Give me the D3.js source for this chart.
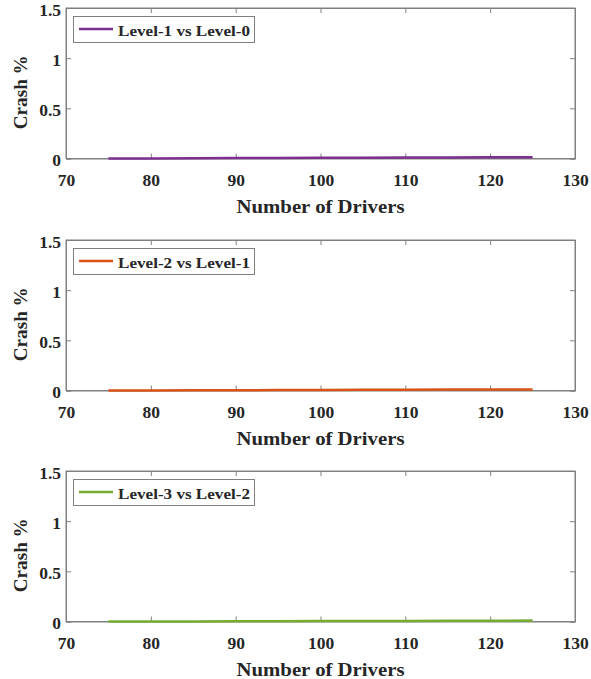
<!DOCTYPE html>
<html>
<head>
<meta charset="utf-8">
<script src="https://cdn.jsdelivr.net/npm/d3@7"></script>
<style>
  body { margin: 0; background: #fff; }
  text { font-family: "Liberation Serif", "Times New Roman", serif; font-weight: bold; fill: #262626; }
</style>
</head>
<body>
<div id="chart"></div>
<script>
// x values (number of drivers) shared by all panels
var drivers = [75, 80, 85, 90, 95, 100, 105, 110, 115, 120, 125];

// crash % for each comparison
var crashL1vsL0 = [0.000, 0.001, 0.003, 0.004, 0.005, 0.007, 0.008, 0.009, 0.011, 0.012, 0.013];
var crashL2vsL1 = [0.000, 0.001, 0.002, 0.003, 0.004, 0.006, 0.007, 0.008, 0.009, 0.010, 0.011];
var crashL3vsL2 = [0.000, 0.001, 0.001, 0.002, 0.003, 0.004, 0.005, 0.006, 0.007, 0.008, 0.009];

var seriesNames = ["Level-1 vs Level-0", "Level-2 vs Level-1", "Level-3 vs Level-2"];
var seriesColors = ["#7E2F8E", "#D95319", "#77AC30"];
var seriesValues = [crashL1vsL0, crashL2vsL1, crashL3vsL2];

var xTicks = [70, 80, 90, 100, 110, 120, 130];
var yTicks = [0, 0.5, 1, 1.5];

var width = 591, height = 679;
var panelTops = [8, 240, 471];
var plotLeft = 66, plotRight = 575, plotHeight = 150.5;
var axisColor = "#808080";

var svg = d3.select("#chart")
  .append("svg")
  .attr("width", width)
  .attr("height", height);

var x = d3.scaleLinear()
  .domain([70, 130])
  .range([plotLeft, plotRight]);

seriesValues.forEach(function (vals, i) {
  var top = panelTops[i];
  var y = d3.scaleLinear()
    .domain([0, 1.5])
    .range([top + plotHeight, top]);

  var g = svg.append("g");

  // bottom axis, ticks pointing inward
  g.append("g")
    .attr("transform", "translate(0," + (top + plotHeight) + ")")
    .call(d3.axisBottom(x).tickValues(xTicks).tickSize(-5).tickPadding(15)
      .tickFormat(d3.format("d")));
  // top ticks
  g.append("g")
    .attr("transform", "translate(0," + top + ")")
    .call(d3.axisTop(x).tickValues(xTicks).tickSize(-5).tickFormat(""));
  // left axis
  var yAxis = g.append("g")
    .attr("transform", "translate(" + plotLeft + ",0)")
    .call(d3.axisLeft(y).tickValues(yTicks).tickSize(-5).tickPadding(5)
      .tickFormat(function (d) { return d; }));
  yAxis.selectAll(".tick text").attr("dy", "0.4em");
  // right ticks
  g.append("g")
    .attr("transform", "translate(" + plotRight + ",0)")
    .call(d3.axisRight(y).tickValues(yTicks).tickSize(-5).tickFormat(""));

  g.selectAll(".domain").attr("stroke", axisColor);
  g.selectAll(".tick line").attr("stroke", axisColor);
  g.selectAll(".tick text")
    .style("font-size", "17.5px")
    .attr("fill", "#262626");

  // box outline
  g.append("rect")
    .attr("x", plotLeft)
    .attr("y", top)
    .attr("width", plotRight - plotLeft)
    .attr("height", plotHeight)
    .attr("fill", "none")
    .attr("stroke", axisColor);

  // data line
  var line = d3.line()
    .x(function (d, j) { return x(drivers[j]); })
    .y(function (d) { return y(d); });
  g.append("path")
    .datum(vals)
    .attr("d", line)
    .attr("fill", "none")
    .attr("stroke", seriesColors[i])
    .attr("stroke-width", 2.5);

  // legend
  var lg = g.append("g").attr("transform", "translate(73.5," + (top + 8.5) + ")");
  lg.append("rect")
    .attr("width", 181)
    .attr("height", 26)
    .attr("fill", "#fff")
    .attr("stroke", axisColor);
  lg.append("line")
    .attr("x1", 5.5).attr("x2", 39.5)
    .attr("y1", 12.5).attr("y2", 12.5)
    .attr("stroke", seriesColors[i])
    .attr("stroke-width", 2.5);
  lg.append("text")
    .attr("x", 44.5)
    .attr("y", 19)
    .attr("textLength", 132)
    .attr("lengthAdjust", "spacingAndGlyphs")
    .style("font-size", "15px")
    .text(seriesNames[i]);

  // axis titles
  g.append("text")
    .attr("x", (plotLeft + plotRight) / 2)
    .attr("y", top + plotHeight + 54)
    .attr("text-anchor", "middle")
    .attr("textLength", 168)
    .attr("lengthAdjust", "spacingAndGlyphs")
    .style("font-size", "18px")
    .text("Number of Drivers");
  g.append("text")
    .attr("transform", "translate(27," + (top + plotHeight / 2 + 9) + ") rotate(-90)")
    .attr("text-anchor", "middle")
    .attr("textLength", 74)
    .attr("lengthAdjust", "spacingAndGlyphs")
    .style("font-size", "18px")
    .text("Crash %");
});
</script>
</body>
</html>
